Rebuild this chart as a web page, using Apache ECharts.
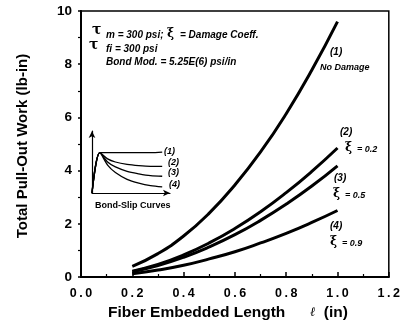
<!DOCTYPE html>
<html>
<head>
<meta charset="utf-8">
<script src="https://cdn.jsdelivr.net/npm/echarts@6/dist/echarts.min.js"></script>
<style>html,body{margin:0;padding:0;background:#fff}#c{width:403px;height:330px}</style>
</head>
<body>
<div id="c"></div>
<script>
// ---- main chart data ----
const lengths = [0.2, 0.3, 0.4, 0.5, 0.6, 0.7, 0.8, 0.9, 1.0];
const noDamage = [0.40, 0.88, 1.54, 2.40, 3.46, 4.70, 6.14, 7.78, 9.60];
const xi02 = [0.22, 0.47, 0.83, 1.28, 1.82, 2.45, 3.17, 3.97, 4.85];
const xi05 = [0.20, 0.43, 0.74, 1.13, 1.59, 2.13, 2.74, 3.42, 4.18];
const xi09 = [0.12, 0.26, 0.44, 0.68, 0.95, 1.28, 1.64, 2.05, 2.50];
const xTicks = [0.0, 0.2, 0.4, 0.6, 0.8, 1.0, 1.2];
const yTicks = [0, 2, 4, 6, 8, 10];

// ---- inset (schematic bond-slip curves) ----
const slip = [0, 0.1, 0.2, 0.3, 0.45, 0.6, 0.75, 0.9];
const bs1 = [0, 0.65, 0.65, 0.65, 0.65, 0.65, 0.65, 0.66];
const bs2 = [0, 0.65, 0.55, 0.50, 0.46, 0.44, 0.43, 0.43];
const bs3 = [0, 0.65, 0.50, 0.42, 0.35, 0.31, 0.28, 0.27];
const bs4 = [0, 0.65, 0.45, 0.33, 0.22, 0.16, 0.12, 0.10];

const pairs = (xs, ys) => xs.map((x, i) => [x, ys[i]]);
const F = 'Liberation Sans, Arial, sans-serif';

const mainLine = (name, ys) => ({
  name, type: 'line', data: pairs(lengths, ys), smooth: true, showSymbol: false,
  lineStyle: { color: '#000', width: 3 }, xAxisIndex: 0, yAxisIndex: 0, z: 3
});
const insetLine = (name, ys) => ({
  name, type: 'line', data: pairs(slip, ys), smooth: 0.3, showSymbol: false,
  lineStyle: { color: '#000', width: 1.3 }, xAxisIndex: 1, yAxisIndex: 1
});

const t = (x, y, text, extra) => ({
  type: 'text', x, y,
  style: Object.assign({ text, fill: '#000', font: 'italic bold 10px ' + F, textVerticalAlign: 'middle' }, extra || {})
});

const chart = echarts.init(document.getElementById('c'), null, { renderer: 'canvas' });
chart.setOption({
  animation: false,
  backgroundColor: '#fff',
  grid: [
    { left: 81, right: 13, top: 11, bottom: 53, show: true, borderColor: '#000', borderWidth: 1.5 },
    { left: 92, top: 131, width: 78, height: 62 }
  ],
  xAxis: [{
    type: 'value', min: 0, max: 1.2, interval: 0.2,
    name: '{b|Fiber Embedded Length}{l|      ℓ  }{b|(in)}',
    nameLocation: 'middle', nameGap: 28,
    nameTextStyle: { padding: [0, 14, 0, 0], rich: {
      b: { fontFamily: F, fontWeight: 'bold', fontSize: 15.5, color: '#000' },
      l: { fontFamily: 'DejaVu Serif, serif', fontStyle: 'italic', fontSize: 13, color: '#000' } } },
    axisLine: { lineStyle: { color: '#000', width: 2 } },
    axisTick: { inside: true, length: 5, lineStyle: { color: '#000', width: 1.5 } },
    minorTick: { show: true, splitNumber: 2, length: 3, lineStyle: { color: '#000', width: 1.2 } },
    splitLine: { show: false },
    axisLabel: { color: '#000', fontFamily: F, fontWeight: 'bold', fontSize: 12.5, margin: 10,
      formatter: v => xTicks.includes(+v.toFixed(1)) ? v.toFixed(1).split('').join('\u2009') : '' }
  }, {
    gridIndex: 1, type: 'value', min: 0, max: 1,
    axisLine: { lineStyle: { color: '#000', width: 1.2 }, symbol: ['none', 'arrow'], symbolSize: [5, 7] },
    axisTick: { show: false }, axisLabel: { show: false }, splitLine: { show: false }
  }],
  yAxis: [{
    type: 'value', min: 0, max: 10, interval: 2,
    axisLine: { lineStyle: { color: '#000', width: 2 } },
    axisTick: { inside: false, length: 3, lineStyle: { color: '#000', width: 1.5 } },
    minorTick: { show: true, splitNumber: 2, length: 3, lineStyle: { color: '#000', width: 1.2 } },
    splitLine: { show: false },
    axisLabel: { color: '#000', fontFamily: F, fontWeight: 'bold', fontSize: 13.5, margin: 9,
      formatter: v => yTicks.includes(v) ? String(v) : '' }
  }, {
    gridIndex: 1, type: 'value', min: 0, max: 1,
    axisLine: { lineStyle: { color: '#000', width: 1.2 }, symbol: ['none', 'arrow'], symbolSize: [5, 7] },
    axisTick: { show: false }, axisLabel: { show: false }, splitLine: { show: false }
  }],
  series: [
    mainLine('(1) No Damage', noDamage),
    mainLine('(2) ξ = 0.2', xi02),
    mainLine('(3) ξ = 0.5', xi05),
    mainLine('(4) ξ = 0.9', xi09),
    insetLine('(1)', bs1), insetLine('(2)', bs2), insetLine('(3)', bs3), insetLine('(4)', bs4)
  ],
  graphic: [
    { type: 'text', x: 23, y: 146, rotation: Math.PI / 2,
      style: { text: 'Total Pull-Out Work (lb-in)', fill: '#000', font: 'bold 15px ' + F,
        textAlign: 'center', textVerticalAlign: 'middle' } },
    t(92, 30, 'τ', { font: 'bold 14px DejaVu Serif, serif' }),
    t(106, 35, 'm = 300 psi;'),
    t(167, 34, 'ξ', { font: 'bold 12px DejaVu Serif, serif' }),
    t(180, 35, '= Damage Coeff.'),
    t(89, 45, 'τ', { font: 'bold 14px DejaVu Serif, serif' }),
    t(106, 49, 'fi = 300 psi'),
    t(106, 62, 'Bond Mod. = 5.25E(6) psi/in'),
    t(330, 52, '(1)'),
    t(320, 68, 'No Damage', { font: 'italic bold 9px ' + F }),
    t(340, 132, '(2)'),
    t(345, 148, 'ξ', { font: 'bold 12px DejaVu Serif, serif' }),
    t(357, 150, '= 0.2', { font: 'italic bold 9px ' + F }),
    t(334, 178, '(3)'),
    t(333, 194, 'ξ', { font: 'bold 12px DejaVu Serif, serif' }),
    t(345, 196, '= 0.5', { font: 'italic bold 9px ' + F }),
    t(330, 226, '(4)'),
    t(330, 242, 'ξ', { font: 'bold 12px DejaVu Serif, serif' }),
    t(342, 244, '= 0.9', { font: 'italic bold 9px ' + F }),
    t(164, 152, '(1)', { font: 'italic bold 9px ' + F }),
    t(168, 163, '(2)', { font: 'italic bold 9px ' + F }),
    t(168, 173, '(3)', { font: 'italic bold 9px ' + F }),
    t(169, 185, '(4)', { font: 'italic bold 9px ' + F }),
    t(95, 206, 'Bond-Slip Curves', { font: 'bold 9px ' + F })
  ]
});
</script>
</body>
</html>
